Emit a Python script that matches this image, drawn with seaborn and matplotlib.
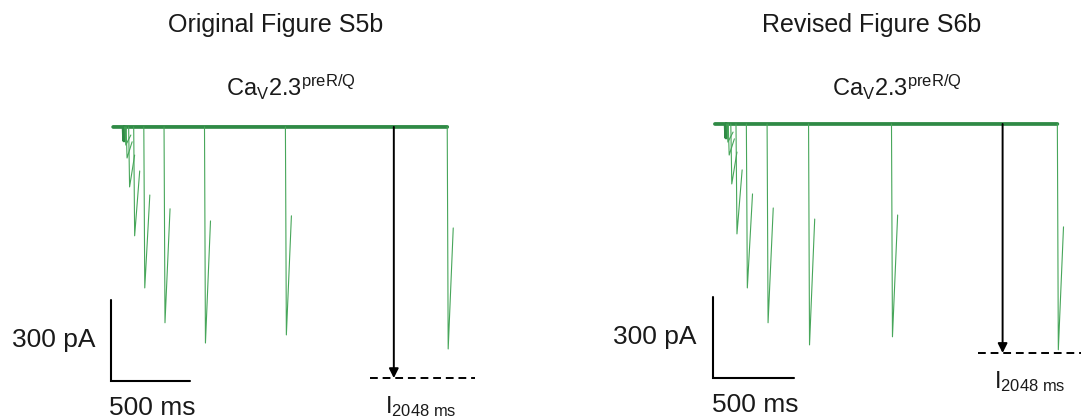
import numpy as np
import pandas as pd
import matplotlib.pyplot as plt
import seaborn as sns

# pulse times (ms) and current (pA, inward = negative)
pulse_t = [8, 16, 32, 64, 128, 256, 512, 1024, 2048]
orig_peak = [-67, -115, -222, -403, -596, -725, -800, -770, -822]
orig_rec = [-30, -55, -104, -163, -252, -303, -348, -329, -374]
rev_peak = [-67, -115, -222, -407, -607, -736, -818, -788, -836]
rev_rec = [-30, -55, -104, -170, -259, -311, -352, -337, -381]
orig_i2048 = -930
rev_i2048 = -848

titles = ["Original Figure S5b", "Revised Figure S6b"]
subtitle = r"Ca$_\mathregular{V}$2.3$^\mathregular{preR/Q}$"
green_dark = "#2f8a45"
green = "#47a65a"
ink = "#1a1a1a"

sns.set_style("white")
plt.rcParams["font.family"] = ["Liberation Sans", "DejaVu Sans"]
plt.rcParams["mathtext.fontset"] = "custom"
plt.rcParams["mathtext.rm"] = "Liberation Sans"
plt.rcParams["mathtext.it"] = "Liberation Sans"


def spike_table(peaks, recs):
    rows = []
    for k, (t, p, r) in enumerate(zip(pulse_t, peaks, recs)):
        rows.append((k, t, 0))
        rows.append((k, t + 6, p))
        rows.append((k, t + 38, r))
    return pd.DataFrame(rows, columns=["sweep", "t", "I"])


fig = plt.figure(figsize=(10.81, 4.20), dpi=100)

# axes boxes in figure fraction and limits chosen so panels line up like the scan
panels = [
    dict(box=[0, 0, 540 / 1081, 1], xlim=(-782, 2635), ylim=(-1085, 470),
         peaks=orig_peak, recs=orig_rec, level=orig_i2048,
         title_x=276, sub_x=291, dash=(1560, 2225)),
    dict(box=[540 / 1081, 0, 541 / 1081, 1], xlim=(-1146, 2194), ylim=(-1096, 459),
         peaks=rev_peak, recs=rev_rec, level=rev_i2048,
         title_x=872, sub_x=897, dash=(1558, 2400)),
]

for i, p in enumerate(panels):
    ax = fig.add_axes(p["box"])
    ax.set_xlim(*p["xlim"])
    ax.set_ylim(*p["ylim"])
    ax.axis("off")

    # baseline with the small artefact at the start
    base = pd.DataFrame({"t": [-66, 0, 3, 8, pulse_t[-1]], "I": [0, 0, -50, 0, 0]})
    sns.lineplot(data=base, x="t", y="I", ax=ax, color=green_dark, lw=2.7,
                 estimator=None, sort=False)

    df = spike_table(p["peaks"], p["recs"])
    sns.lineplot(data=df, x="t", y="I", units="sweep", estimator=None, sort=False,
                 ax=ax, color=green, lw=0.8)

    # arrow to the I_2048 level
    ax.annotate("", xy=(1710, p["level"]), xytext=(1710, 0),
                arrowprops=dict(arrowstyle="-|>", color="k", lw=1.4,
                                mutation_scale=14, shrinkA=0, shrinkB=0))
    ax.plot(p["dash"], [p["level"], p["level"]], color="k", lw=1.4,
            dashes=(4, 2.5))
    ax.text(1655, p["level"] - 58, r"I$_\mathregular{2048\ ms}$", fontsize=17,
            ha="left", va="top", color=ink)

    # scale bar 500 ms x 300 pA
    x0, y0 = -78, -940
    ax.plot([x0, x0, x0 + 500], [y0 + 300, y0, y0], color="k", lw=1.5,
            solid_joinstyle="miter")
    ax.text(x0 - 100, y0 + 150, "300 pA", fontsize=19, ha="right", va="center",
            color=ink)
    ax.text(x0 + 260, y0 - 100, "500 ms", fontsize=19, ha="center", va="center",
            color=ink)

    fig.text(p["title_x"] / 1081, 1 - 25 / 420, titles[i], fontsize=18,
             ha="center", va="center", color=ink)
    fig.text(p["sub_x"] / 1081, 1 - 87 / 420, subtitle, fontsize=17,
             ha="center", va="center", color=ink)

fig.savefig("out.png", dpi=100)
